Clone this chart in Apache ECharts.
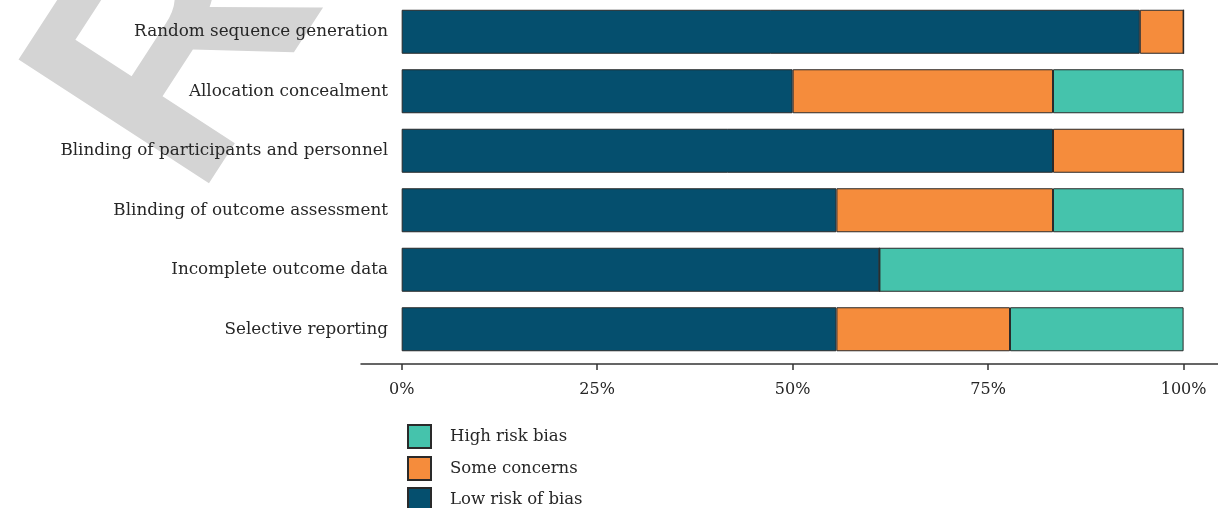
<!DOCTYPE html>
<html>
<head>
<meta charset="utf-8">
<script src="https://cdn.jsdelivr.net/npm/echarts@6/dist/echarts.min.js"></script>
<style>
  html, body { margin: 0; padding: 0; background: #fff; }
  #main { width: 1218px; height: 508px; }
</style>
</head>
<body>
<div id="main"></div>
<script>
// risk of bias domains, top to bottom
const domains = [
  'Random sequence generation',
  'Allocation concealment',
  'Blinding of participants and personnel',
  'Blinding of outcome assessment',
  'Incomplete outcome data',
  'Selective reporting'
];
// percent of studies per judgement
const lowRisk = [94.4, 50.0, 83.3, 55.6, 61.1, 55.6];
const someConcerns = [5.6, 33.3, 16.7, 27.7, 0, 22.2];
const highRisk = [0, 16.7, 0, 16.7, 38.9, 22.2];
const tickValues = [0, 25, 50, 75, 100];
const legendOrder = ['High risk bias', 'Some concerns', 'Low risk of bias'];

const serif = '"DejaVu Serif", serif';
const textCol = '#262626';

function barSeries(name, data, color) {
  return {
    name: name,
    type: 'bar',
    stack: 'rob',
    barWidth: 44,
    data: data,
    itemStyle: {
      color: color,
      borderColor: '#2a2a2a',
      borderWidth: 1
    }
  };
}

// one legend per row, the stacked list runs off the bottom edge
const legendTops = [424, 456, 487];
const legends = legendOrder.map((name, i) => ({
  orient: 'vertical',
  left: 407,
  top: legendTops[i],
  padding: 0,
  itemWidth: 23,
  itemHeight: 23,
  icon: 'rect',
  data: [name],
  textStyle: { fontFamily: serif, fontSize: 16.5, color: textCol, padding: [0, 0, 0, 14] }
}));

const option = {
  animation: false,
  graphic: [{
    type: 'text',
    silent: true,
    z: -10,
    x: 259,
    y: 242,
    rotation: 57 * Math.PI / 180,
    style: {
      text: 'RETRACTED',
      font: 'bold 330px "Liberation Sans"',
      fill: '#d4d4d4',
      align: 'left',
      verticalAlign: 'bottom'
    }
  }],
  grid: {
    left: 361,
    right: 0,
    top: 2,
    bottom: 149
  },
  legend: legends,
  xAxis: {
    type: 'value',
    min: -5.2,
    max: 104.4,
    offset: 5,
    splitLine: { show: false },
    axisLine: { show: true, lineStyle: { color: '#333', width: 1.5 } },
    axisTick: { show: true, customValues: tickValues, length: 6, lineStyle: { color: '#333', width: 1.5 } },
    axisLabel: {
      customValues: tickValues,
      margin: 18,
      fontFamily: serif,
      fontSize: 16,
      color: textCol,
      formatter: v => v + '%'
    }
  },
  yAxis: {
    type: 'category',
    inverse: true,
    data: domains,
    offset: -35,
    axisLine: { show: false },
    axisTick: { show: false },
    axisLabel: { fontFamily: serif, fontSize: 16.8, color: textCol, margin: 8 }
  },
  series: [
    barSeries('Low risk of bias', lowRisk, '#054f6e'),
    barSeries('Some concerns', someConcerns, '#f58c3c'),
    barSeries('High risk bias', highRisk, '#45c3ac')
  ]
};

const chart = echarts.init(document.getElementById('main'));
chart.setOption(option);
</script>
</body>
</html>
